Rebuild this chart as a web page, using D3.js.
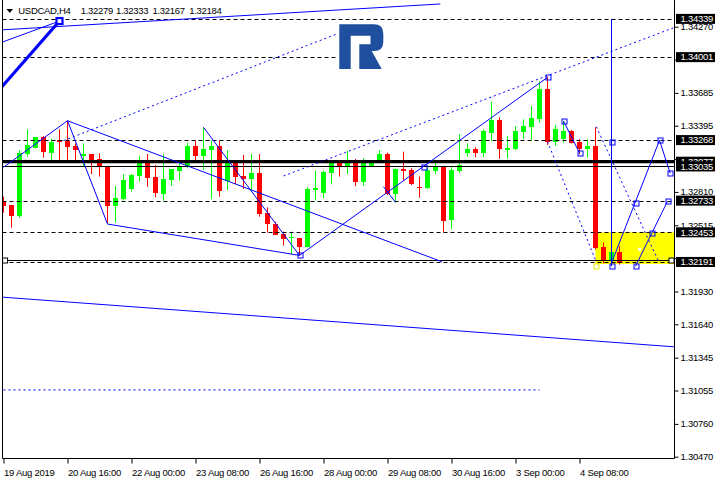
<!DOCTYPE html>
<html><head><meta charset="utf-8">
<script src="https://cdn.jsdelivr.net/npm/d3@7"></script>
<style>
body{margin:0;background:#fff;}
svg{display:block;font-family:"Liberation Sans",Arial,sans-serif;}
</style></head><body>
<svg id="c" width="720" height="480"></svg>
<script>
// ---- data ----
const opens =[1.32724,1.32694,1.32600,1.33145,1.33201,1.33292,1.33157,1.33266,1.33260,1.33216,1.33130,1.33145,1.33098,1.33039,1.32688,1.32747,1.32836,1.32954,1.33092,1.32942,1.32794,1.32918,1.32998,1.33027,1.33219,1.33127,1.33180,1.33216,1.32906,1.33063,1.32951,1.32924,1.32974,1.32621,1.32526,1.32438,1.32400,1.32400,1.32326,1.32827,1.32803,1.32980,1.33063,1.33027,1.33092,1.32901,1.33039,1.33077,1.33145,1.32791,1.33012,1.33004,1.32853,1.32842,1.32998,1.33027,1.32562,1.32998,1.33157,1.33189,1.33157,1.33334,1.33446,1.33180,1.33189,1.33342,1.33387,1.33454,1.33719,1.33254,1.33275,1.33348,1.33254,1.33189,1.33216,1.32320,1.32208,1.32279];
const highs =[1.32768,1.32694,1.33180,1.33363,1.33292,1.33304,1.33281,1.33363,1.33440,1.33239,1.33239,1.33145,1.33151,1.33039,1.32862,1.32968,1.32968,1.33127,1.33145,1.33048,1.33145,1.33012,1.33063,1.33245,1.33263,1.33381,1.33263,1.33263,1.33180,1.33063,1.33136,1.33145,1.33145,1.32674,1.32547,1.32459,1.32459,1.32400,1.32850,1.32998,1.32998,1.33068,1.33092,1.33175,1.33101,1.33107,1.33092,1.33180,1.33157,1.33018,1.33166,1.33018,1.32945,1.33027,1.33092,1.33027,1.33039,1.33322,1.33239,1.33204,1.33363,1.33608,1.33469,1.33304,1.33392,1.33451,1.33569,1.33784,1.33828,1.33401,1.33431,1.33357,1.33275,1.33275,1.33381,1.32364,1.32297,1.32333];
const lows  =[1.32627,1.32494,1.32582,1.33121,1.33195,1.33113,1.33083,1.33083,1.33092,1.33092,1.33039,1.32968,1.32945,1.32526,1.32538,1.32733,1.32812,1.32901,1.32856,1.32762,1.32733,1.32862,1.32909,1.33018,1.33092,1.33004,1.32747,1.32768,1.32827,1.32880,1.32836,1.32827,1.32591,1.32450,1.32429,1.32335,1.32261,1.32252,1.32320,1.32733,1.32753,1.32877,1.32945,1.32968,1.32862,1.32862,1.33039,1.33063,1.32782,1.32718,1.32909,1.32871,1.32759,1.32836,1.32968,1.32453,1.32482,1.32980,1.33121,1.33116,1.33116,1.33260,1.33104,1.33104,1.33180,1.33278,1.33269,1.33422,1.33225,1.33216,1.33248,1.33239,1.33142,1.33113,1.32300,1.32179,1.32179,1.32167];
const closes=[1.32688,1.32600,1.33151,1.33225,1.33292,1.33166,1.33251,1.33254,1.33210,1.33183,1.33145,1.33095,1.33027,1.32688,1.32756,1.32915,1.32959,1.33092,1.32936,1.32797,1.32924,1.33012,1.33039,1.33219,1.33127,1.33189,1.33216,1.32821,1.33071,1.32945,1.32924,1.32974,1.32615,1.32526,1.32429,1.32394,1.32414,1.32326,1.32836,1.32842,1.32983,1.33063,1.33027,1.33092,1.32901,1.33063,1.33063,1.33145,1.32791,1.33012,1.32998,1.32880,1.32845,1.33004,1.33027,1.32556,1.33004,1.33048,1.33189,1.33157,1.33348,1.33446,1.33186,1.33198,1.33348,1.33392,1.33466,1.33719,1.33254,1.33363,1.33348,1.33245,1.33186,1.33216,1.32317,1.32208,1.32276,1.32184];

const dateLabels=["19 Aug 2019","20 Aug 16:00","22 Aug 00:00","23 Aug 08:00","26 Aug 16:00","28 Aug 00:00","29 Aug 08:00","30 Aug 16:00","3 Sep 00:00","4 Sep 08:00"];
const dateTickIdx=[0,8,16,24,32,40,48,56,64,72];
const priceTicks=[1.34270,1.33980,1.33685,1.33395,1.33100,1.32810,1.32515,1.32225,1.31930,1.31640,1.31345,1.31055,1.30760,1.30470];
const hiddenTickLabels=[1.33980,1.33100,1.32225]; // covered by the level boxes
const dashedLevels=[1.34339,1.34001,1.33268,1.32733,1.32453,1.32191];
const thickLevel=1.33077, thinLevel=1.33035;
const markedLevel=[0.2,83.5,1.32206];
const priceBoxes=[1.34339,1.34001,1.33268,1.33077,1.33035,1.32733,1.32453,1.32191];
const headerTexts=["USDCAD,H4","1.32279","1.32333","1.32167","1.32184"];
// annotation segments: [index1, price1, index2, price2]
const solidLines=[
 [-0.45,1.34241,54.6,1.34471],
 [-0.45,1.34126,7,1.34320],
 [0,1.33028,8,1.33439],
 [8,1.33439,13,1.32526],
 [8,1.33439,54.8,1.32193],
 [13,1.32526,37,1.32249],
 [25,1.33381,37,1.32249],
 [37,1.32249,68,1.33822],
 [47.5,1.32856,49,1.32718],
 [70,1.33437,72,1.33154],
 [76,1.32182,82,1.33266],
 [82,1.33266,83.34,1.32975],
 [79,1.32153,83,1.32727],
 [-0.3,1.31881,84,1.31440],
 [76,1.34339,76,1.32155]
];
const thickLines=[[-0.45,1.33719,7,1.34320]];
const dottedLines=[
 [7.5,1.33263,41.7,1.34207],
 [35,1.32951,84,1.34267],
 [68,1.33254,74,1.32208],
 [74.1,1.33386,81.9,1.32193],
 [0,1.31060,67,1.31060]
];
const markers=[[37,1.32249],[52.5,1.33028],[68,1.33822],[70,1.33437],[72,1.33154],[76,1.33251],[76,1.32155],[79,1.32153],[79,1.32712],[81,1.32447],[82,1.33266],[83,1.32727],[83.34,1.32975]];
const bigMarker=[7,1.34320];
const zone=[74,84,1.32453,1.32173];

// ---- scales ----
const svg=d3.select("#c");
const x=d3.scaleLinear().domain([0,84]).range([3.5,675.5]);
const y=d3.scaleLinear().domain([1.30470,1.34270]).range([456.7,26.7]);
const L=2.5,R=674.5,B=458.5;

svg.append("defs").append("clipPath").attr("id","pc").append("rect").attr("x",L).attr("y",0).attr("width",R-L).attr("height",B);
const plot=svg.append("g").attr("clip-path","url(#pc)");

// yellow zone
plot.append("rect").attr("x",x(zone[0])).attr("y",y(zone[2])).attr("width",x(zone[1])-x(zone[0])).attr("height",y(zone[3])-y(zone[2])).attr("fill","#ffff00");
plot.append("rect").attr("x",x(79.5)-1.5).attr("y",y(1.32303)-1.5).attr("width",3).attr("height",3).attr("fill","#fff");

// candles
const idx=d3.range(opens.length);
const cg=plot.append("g");
idx.forEach(i=>{
  const up=closes[i]>=opens[i];
  const col=up?"#00ff00":"#ff0000";
  const cx=x(i);
  cg.append("line").attr("x1",cx).attr("x2",cx).attr("y1",y(highs[i])).attr("y2",y(lows[i])).attr("stroke",col).attr("stroke-width",1);
  const t=y(Math.max(opens[i],closes[i])), b=y(Math.min(opens[i],closes[i]));
  cg.append("rect").attr("x",cx-2.5).attr("y",Math.round(t)).attr("width",5).attr("height",Math.max(1,Math.round(b)-Math.round(t))).attr("fill",col);
});

// levels
dashedLevels.forEach(p=>{
  plot.append("line").attr("x1",L).attr("x2",R).attr("y1",Math.round(y(p))+0.5).attr("y2",Math.round(y(p))+0.5)
   .attr("stroke","#000").attr("stroke-dasharray","4,3");
});
plot.append("line").attr("x1",L).attr("x2",R).attr("y1",y(thickLevel)).attr("y2",y(thickLevel)).attr("stroke","#000").attr("stroke-width",3.2);
plot.append("line").attr("x1",L).attr("x2",R).attr("y1",Math.round(y(thinLevel))+0.5).attr("y2",Math.round(y(thinLevel))+0.5).attr("stroke","#000").attr("stroke-width",1);
plot.append("line").attr("x1",x(markedLevel[0])).attr("x2",x(markedLevel[1])).attr("y1",Math.round(y(markedLevel[2]))+0.5).attr("y2",Math.round(y(markedLevel[2]))+0.5).attr("stroke","#000");
[markedLevel[0],markedLevel[1]].forEach(i=>{
  plot.append("rect").attr("x",x(i)-2.5).attr("y",Math.round(y(markedLevel[2]))-2).attr("width",5).attr("height",5).attr("fill","#fff").attr("stroke","#000");
});

// blue annotation lines
const seg=(g,d)=>g.append("line").attr("x1",x(d[0])).attr("y1",y(d[1])).attr("x2",x(d[2])).attr("y2",y(d[3]));
solidLines.forEach(d=>seg(plot,d).attr("stroke","#0000ff").attr("stroke-width",1));
thickLines.forEach(d=>seg(plot,d).attr("stroke","#0000ff").attr("stroke-width",3.2));
dottedLines.forEach(d=>seg(plot,d).attr("stroke","#0000ff").attr("stroke-width",1).attr("stroke-dasharray","2,3"));
markers.forEach(m=>{
  plot.append("rect").attr("x",Math.round(x(m[0]))-2).attr("y",Math.round(y(m[1]))-2).attr("width",5).attr("height",5).attr("fill","none").attr("stroke","#0000ff");
});
plot.append("rect").attr("x",Math.round(x(zone[0]))-2).attr("y",Math.round(y(1.32158))-2).attr("width",5).attr("height",5).attr("fill","none").attr("stroke","#e8e800");
plot.append("rect").attr("x",x(bigMarker[0])-3).attr("y",y(bigMarker[1])-3).attr("width",6).attr("height",6).attr("fill","#fff").attr("stroke","#0000ff").attr("stroke-width",2.2);

// logo
const logo=plot.append("g");
logo.append("rect").attr("x",337).attr("y",22).attr("width",51).attr("height",50).attr("fill","#fff");
logo.append("path").attr("d","M339.3,24.3 H374 Q383.3,24.3 383.3,33.6 V42 Q383.3,51 374,51 H371.7 L381.7,69 H359.3 V44.3 H370.5 V35.7 H350.7 V69 H339.3 Z").attr("fill","#1f4f9e");

// frame
svg.append("line").attr("x1",L).attr("x2",L).attr("y1",0).attr("y2",B).attr("stroke","#000");
svg.append("line").attr("x1",L).attr("x2",R).attr("y1",B).attr("y2",B).attr("stroke","#000");
svg.append("line").attr("x1",R).attr("x2",R).attr("y1",0).attr("y2",B).attr("stroke","#000");

// axes
const ya=svg.append("g").attr("transform",`translate(${R},0)`)
  .call(d3.axisRight(y).tickValues(priceTicks).tickSize(4).tickPadding(2)
    .tickFormat(d=>hiddenTickLabels.includes(d)?"":d3.format(".5f")(d)));
ya.select(".domain").remove();
ya.selectAll("text").attr("font-size","9.5px").attr("font-family","Liberation Sans, Arial, sans-serif").attr("fill","#000").attr("letter-spacing","-0.25");
const xa=svg.append("g").attr("transform",`translate(0,${B})`)
  .call(d3.axisBottom(x).tickValues(dateTickIdx).tickSize(5).tickPadding(6).tickFormat((d,i)=>dateLabels[i]));
xa.select(".domain").remove();
xa.selectAll("text").attr("text-anchor","start").attr("x",0).attr("font-size","9.5px").attr("font-family","Liberation Sans, Arial, sans-serif").attr("fill","#000").attr("letter-spacing","-0.25");

// price boxes
priceBoxes.forEach(p=>{
  const yy=y(p);
  svg.append("rect").attr("x",676).attr("y",yy-5).attr("width",39).attr("height",10).attr("fill","#000");
  svg.append("text").attr("x",680.5).attr("y",yy).attr("dy","0.35em").attr("fill","#fff").attr("font-size","9.5px").attr("letter-spacing","-0.25").text(d3.format(".5f")(p));
});

// header
svg.append("path").attr("d","M6.5,9 L13,9 L9.75,13 Z").attr("fill","#000");
const hx=[18.3,80.7,116,152.5,189.3];
headerTexts.forEach((t,i)=>svg.append("text").attr("x",hx[i]).attr("y",14).attr("font-size","9.5px").attr("fill","#000").attr("letter-spacing","-0.3").text(t));
</script>
</body></html>
